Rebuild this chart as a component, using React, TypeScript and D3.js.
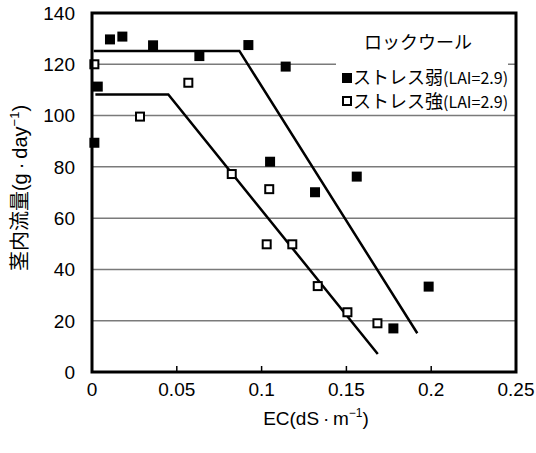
import React from "react";
import * as d3 from "d3";

// ストレス弱 (filled squares)
const weakEC = [0.0014, 0.0034, 0.0106, 0.0179, 0.036, 0.0633, 0.0922, 0.1142, 0.105, 0.1315, 0.1561, 0.1777, 0.1985];
const weakFlow = [89.4, 111.3, 129.7, 130.8, 127.4, 123.2, 127.5, 119.1, 82.0, 70.1, 76.2, 17.0, 33.3];

// ストレス強 (open squares)
const strongEC = [0.0014, 0.0283, 0.0568, 0.0824, 0.1045, 0.103, 0.1181, 0.1331, 0.1506, 0.1683];
const strongFlow = [120.0, 99.6, 112.8, 77.2, 71.3, 49.8, 49.8, 33.5, 23.3, 19.0];

// fitted broken lines
const weakLineEC = [0.001, 0.0869, 0.1918];
const weakLineFlow = [125.2, 125.2, 15.1];
const strongLineEC = [0.002, 0.045, 0.1685];
const strongLineFlow = [108.2, 108.2, 7.0];

const xTicks = [0, 0.05, 0.1, 0.15, 0.2, 0.25];
const xTickLabels = ["0", "0.05", "0.1", "0.15", "0.2", "0.25"];
const yTicks = [0, 20, 40, 60, 80, 100, 120, 140];

const legendTitle = "ロックウール";
const legendWeak = "ストレス弱";
const legendStrong = "ストレス強";
const legendSuffix = "(LAI=2.9)";

const W = 536;
const H = 453;
const margin = { top: 13, right: 20, bottom: 81, left: 92 };

const x = d3.scaleLinear().domain([0, 0.25]).range([margin.left, W - margin.right]);
const y = d3.scaleLinear().domain([0, 140]).range([H - margin.bottom, margin.top]);

const line = d3
  .line<[number, number]>()
  .x(d => x(d[0]))
  .y(d => y(d[1]));

const zip = (a: number[], b: number[]): [number, number][] => a.map((v, i) => [v, b[i]]);

const NUM = "'Liberation Sans', Arial, sans-serif";
const JP = "'Noto Sans CJK JP', sans-serif";

export default function App() {
  const x0 = x(0);
  const x1 = x(0.25);
  const y0 = y(0);
  const y1 = y(140);

  return (
    <div style={{ position: "absolute", left: 0, top: 0 }}>
      <svg width={W} height={H} style={{ display: "block", background: "#fff" }}>
        {/* grid lines */}
        {yTicks.slice(1, -1).map(t => (
          <line key={t} x1={x0} x2={x1} y1={y(t)} y2={y(t)} stroke="#7a7a7a" strokeWidth={1.5} />
        ))}

        {/* bottom inner ticks */}
        {xTicks.slice(1, -1).map(t => (
          <line key={t} x1={x(t)} x2={x(t)} y1={y0} y2={y0 - 6} stroke="#000" strokeWidth={1.5} />
        ))}

        {/* legend background */}
        <rect x={336} y={22} width={172} height={90} fill="#fff" />
        <text x={418} y={49} fontFamily={JP} fontSize={18} textAnchor="middle" fill="#000">
          {legendTitle}
        </text>
        <rect x={342} y={73} width={10} height={10} fill="#000" />
        <text x={353} y={84} fontFamily={JP} fontSize={18} fill="#000">
          {legendWeak}
          <tspan fontSize={16}>{legendSuffix}</tspan>
        </text>
        <rect x={343} y={97} width={8} height={8} fill="#fff" stroke="#000" strokeWidth={2} />
        <text x={353} y={108} fontFamily={JP} fontSize={18} fill="#000">
          {legendStrong}
          <tspan fontSize={16}>{legendSuffix}</tspan>
        </text>

        {/* fitted lines */}
        <path d={line(zip(weakLineEC, weakLineFlow)) || ""} fill="none" stroke="#000" strokeWidth={2.5} />
        <path d={line(zip(strongLineEC, strongLineFlow)) || ""} fill="none" stroke="#000" strokeWidth={2.5} />

        {/* points */}
        {zip(weakEC, weakFlow).map((d, i) => (
          <rect key={"w" + i} x={x(d[0]) - 5} y={y(d[1]) - 5} width={10} height={10} fill="#000" />
        ))}
        {zip(strongEC, strongFlow).map((d, i) => (
          <rect
            key={"s" + i}
            x={x(d[0]) - 4}
            y={y(d[1]) - 4}
            width={8}
            height={8}
            fill="#fff"
            stroke="#000"
            strokeWidth={2}
          />
        ))}

        {/* frame */}
        <rect x={x0} y={y1} width={x1 - x0} height={y0 - y1} fill="none" stroke="#000" strokeWidth={3} />

        {/* y tick labels */}
        {yTicks.map(t => (
          <text key={t} x={75} y={y(t)} dy="0.36em" fontFamily={NUM} fontSize={19} textAnchor="end" fill="#000">
            {t}
          </text>
        ))}

        {/* x tick labels */}
        {xTicks.map((t, i) => (
          <text key={t} x={x(t)} y={396} fontFamily={NUM} fontSize={19} textAnchor="middle" fill="#000">
            {xTickLabels[i]}
          </text>
        ))}

        {/* x axis title */}
        <text x={316} y={425} fontFamily={NUM} fontSize={19} textAnchor="middle" fill="#000">
          {"EC(dS\u2009·\u2009m"}
          <tspan fontSize={12} dy={-8}>−1</tspan>
          <tspan dy={8}>)</tspan>
        </text>

        {/* y axis title */}
        <text
          transform="translate(27,188) rotate(-90)"
          fontFamily={JP}
          fontSize={20}
          textAnchor="middle"
          fill="#000"
        >
          茎内流量
          <tspan fontFamily={NUM}>{"(g\u2009·\u2009day"}</tspan>
          <tspan fontFamily={NUM} fontSize={13} dy={-8}>−1</tspan>
          <tspan fontFamily={NUM} dy={8}>)</tspan>
        </text>
      </svg>
    </div>
  );
}
